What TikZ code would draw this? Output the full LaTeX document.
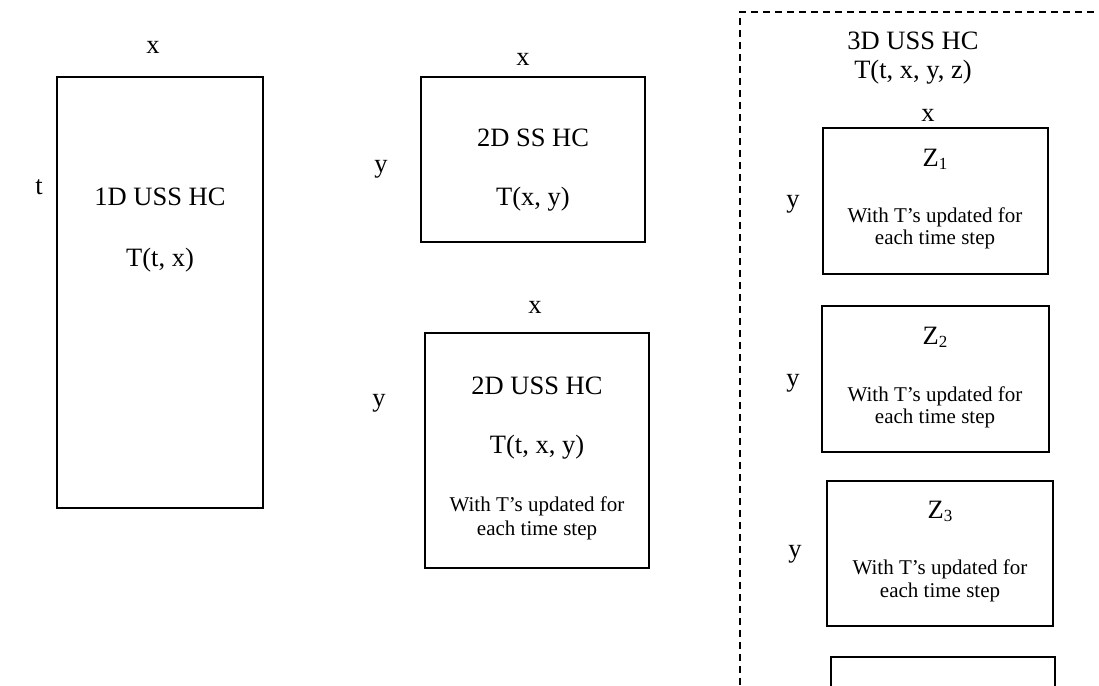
\documentclass[tikz,border=0pt]{standalone}
\usepackage{fontspec}
\setmainfont{Liberation Serif}
\newcommand{\bigtxt}{\fontsize{26.5}{30}\selectfont}
\newcommand{\smalltxt}{\fontsize{21}{24.5}\selectfont}
\newcommand{\zsub}[1]{Z\raisebox{-0.28ex}{\fontsize{17}{20}\selectfont #1}}
\begin{document}
\begin{tikzpicture}[x=1pt,y=-1pt,
  box/.style={draw,line width=2pt,inner sep=0pt},
  lbl/.style={anchor=base,inner sep=0pt,font=\bigtxt},
  sml/.style={anchor=base,inner sep=0pt,font=\smalltxt},
  frame/.style={line width=1.6pt,dash pattern=on 7pt off 5pt}]
\useasboundingbox (0,0) rectangle (1099,685);
% 1D
\node[box,minimum width=206pt,minimum height=431pt] (b1) at (160,292.5) {};
\node[lbl] (b1x) at (153,54) {x};
\node[lbl] (b1t) at (39,194) {t};
\node[lbl] (b1a) at (160,205) {1D USS HC};
\node[lbl] (b1b) at (160,266) {T(t, x)};
% 2D SS
\node[box,minimum width=224pt,minimum height=165pt] (b2) at (533,159.5) {};
\node[lbl] (b2x) at (523,66) {x};
\node[lbl] (b2y) at (381,172) {y};
\node[lbl] (b2a) at (533,146) {2D SS HC};
\node[lbl] (b2b) at (533,205) {T(x, y)};
% 2D USS
\node[box,minimum width=224pt,minimum height=235pt] (b3) at (537,450.5) {};
\node[lbl] (b3x) at (535,313) {x};
\node[lbl] (b3y) at (379,406) {y};
\node[lbl] (b3a) at (537,394) {2D USS HC};
\node[lbl] (b3b) at (537,453) {T(t, x, y)};
\node[sml] (b3c) at (537,511) {With T’s updated for};
\node[sml] (b3d) at (537,535) {each time step};
% 3D frame
\draw[frame] (740,685) -- (740,12) -- (1099,12);
\node[lbl] (h1) at (913,50) {3D USS HC};
\node[lbl] (h2) at (913,78) {T(t, x, y, z)};
\node[lbl] (hx) at (928,121) {x};
% Z1
\node[box,minimum width=225pt,minimum height=146pt] (z1) at (935.5,201) {};
\node[lbl] (z1a) at (935,166) {\zsub{1}};
\node[lbl] (z1y) at (793,207) {y};
\node[sml] (z1b) at (935,222) {With T’s updated for};
\node[sml] (z1c) at (935,244) {each time step};
% Z2
\node[box,minimum width=227pt,minimum height=146pt] (z2) at (935.5,379) {};
\node[lbl] (z2a) at (935,344) {\zsub{2}};
\node[lbl] (z2y) at (793,386) {y};
\node[sml] (z2b) at (935,401) {With T’s updated for};
\node[sml] (z2c) at (935,423) {each time step};
% Z3
\node[box,minimum width=226pt,minimum height=145pt] (z3) at (940,553.5) {};
\node[lbl] (z3a) at (940,518) {\zsub{3}};
\node[lbl] (z3y) at (795,557) {y};
\node[sml] (z3b) at (940,574) {With T’s updated for};
\node[sml] (z3c) at (940,597) {each time step};
% partial box at the bottom
\draw[line width=2pt] (831,690) -- (831,657) -- (1055,657) -- (1055,690);
\end{tikzpicture}
\end{document}
